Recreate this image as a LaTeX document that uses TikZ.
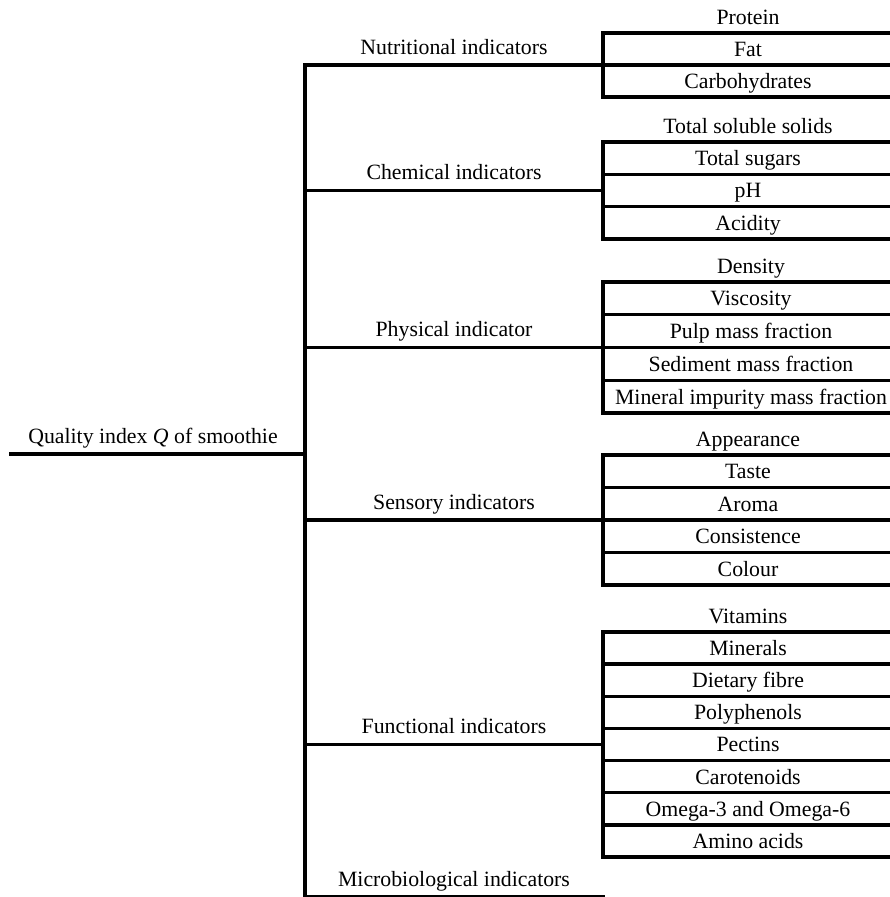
\documentclass[tikz,border=0pt]{standalone}
\usepackage{fontspec}
\setmainfont{Liberation Serif}

\tikzset{
  branch/.style={line width=3.4pt, line cap=rect},
  catlabel/.style={anchor=base, inner sep=0pt, font=\fontsize{21.8}{26}\selectfont},
  itemlabel/.style={anchor=base, inner sep=0pt, font=\fontsize{21.8}{26}\selectfont}
}

\begin{document}
\begin{tikzpicture}[x=1pt, y=-1pt]
  % Page frame in pixels of the reference, y runs downwards
  \useasboundingbox (0,0) rectangle (889,897);
  % Root of the tree and its stem into the spine
  \node[catlabel] (root) at (153,443) {Quality index \textit{Q} of smoothie};
  \coordinate (root-l) at (11,454);
  \coordinate (root-s) at (305,454);
  \draw[branch] (root-l) -- (root-s);
  % Category branches: stem from the spine, label above it
  \foreach \g/\y/\txt in {nut/65/Nutritional indicators,chem/190.5/Chemical indicators,
      phys/347.5/Physical indicator,sens/520/Sensory indicators,
      func/744.5/Functional indicators,micro/897/Microbiological indicators} {
    \coordinate (\g-s) at (305,\y);
    \coordinate (\g-j) at (603,\y);
    \draw[branch] (\g-s) -- (\g-j);
    \node[catlabel] (\g) at (454,\y-11) {\txt};
  }
  \draw[branch] (nut-s) -- (micro-s);
  % Nutritional indicators: first item sits above the box
  \foreach \t [count=\i from 0] in {Protein,Fat,Carbohydrates}
    \node[itemlabel] (nut-\i) at (748,{33+(\i-0.5)*32+7.5}) {\t};
  \foreach \i in {0,...,2}
    \draw[branch] (603,{33+\i*32}) -- (892,{33+\i*32});
  \draw[branch] (603,33) -- (nut-j) -- (603,97);
  % Chemical indicators
  \foreach \t [count=\i from 0] in {Total soluble solids,Total sugars,pH,Acidity}
    \node[itemlabel] (chem-\i) at (748,{142+(\i-0.5)*32.33+7.5}) {\t};
  \foreach \i in {0,...,3}
    \draw[branch] (603,{142+\i*32.33}) -- (892,{142+\i*32.33});
  \draw[branch] (603,142) -- (chem-j) -- (603,239);
  % Physical indicator
  \foreach \t [count=\i from 0] in {Density,Viscosity,Pulp mass fraction,Sediment mass fraction,Mineral impurity mass fraction}
    \node[itemlabel] (phys-\i) at (751,{282+(\i-0.5)*32.75+7.5}) {\t};
  \foreach \i in {0,...,4}
    \draw[branch] (603,{282+\i*32.75}) -- (892,{282+\i*32.75});
  \draw[branch] (603,282) -- (phys-j) -- (603,413);
  % Sensory indicators
  \foreach \t [count=\i from 0] in {Appearance,Taste,Aroma,Consistence,Colour}
    \node[itemlabel] (sens-\i) at (748,{455+(\i-0.5)*32.5+7.5}) {\t};
  \foreach \i in {0,...,4}
    \draw[branch] (603,{455+\i*32.5}) -- (892,{455+\i*32.5});
  \draw[branch] (603,455) -- (sens-j) -- (603,585);
  % Functional indicators
  \foreach \t [count=\i from 0] in {Vitamins,Minerals,Dietary fibre,Polyphenols,Pectins,Carotenoids,Omega-3 and Omega-6,Amino acids}
    \node[itemlabel] (func-\i) at (748,{632+(\i-0.5)*32.14+7.5}) {\t};
  \foreach \i in {0,...,7}
    \draw[branch] (603,{632+\i*32.14}) -- (892,{632+\i*32.14});
  \draw[branch] (603,632) -- (func-j) -- (603,857);
\end{tikzpicture}
\end{document}
